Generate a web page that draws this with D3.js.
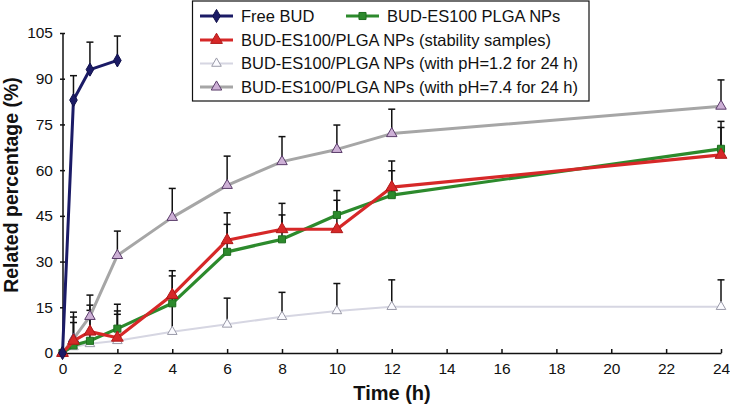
<!DOCTYPE html>
<html><head><meta charset="utf-8">
<script src="https://cdn.jsdelivr.net/npm/d3@7"></script>
<style>body{margin:0;background:#fff}svg{display:block}text{font-family:"Liberation Sans",Arial,sans-serif}</style>
</head><body><svg id="c" width="730" height="405"></svg>
<script>
const times = [0, 0.4, 1, 2, 4, 6, 8, 10, 12, 24];
const freeTimes = [0, 0.4, 1, 2];
const freeBud = [0, 83, 93, 96];
const freeBudSD = [0, 8, 9, 8];
const greenNP = [0, 2.5, 4, 8, 16.3, 33.2, 37.3, 45.3, 51.8, 67];
const greenSD = [0, 7.5, 10, 8, 9, 9, 8, 8, 8, 9];
const redStab = [0, 4, 7, 5, 19, 37, 40.6, 40.6, 54.4, 65];
const redSD = [0, 7.8, 8.7, 8.8, 8, 9, 8.5, 9.5, 8.6, 9];
const ph12 = [0, 2, 3, 4, 7, 9.4, 11.9, 13.8, 15.2, 15.2];
const ph12SD = [0, 0, 0, 8.7, 9, 8.6, 8, 9, 8.8, 8.8];
const ph74 = [0, 4.6, 12, 32, 44.5, 55, 62.8, 66.8, 72, 81];
const ph74SD = [0, 8.8, 7, 8, 9.5, 9.6, 8.2, 8, 8, 8.6];
const xTicks = [0, 2, 4, 6, 8, 10, 12, 14, 16, 18, 20, 22, 24];
const yTicks = [0, 15, 30, 45, 60, 75, 90, 105];
const legendLabels = ["Free BUD", "BUD-ES100 PLGA NPs", "BUD-ES100/PLGA NPs (stability samples)",
  "BUD-ES100/PLGA NPs (with pH=1.2 for 24 h)", "BUD-ES100/PLGA NPs (with pH=7.4 for 24 h)"];

const svg = d3.select("#c");
const x = d3.scaleLinear().domain([0, 24]).range([62.5, 721]);
const y = d3.scaleLinear().domain([0, 105]).range([353, 33]);

const series = [
  {name: legendLabels[3], t: times, v: ph12, sd: ph12SD, color: "#d6d6e2", w: 2, shape: d3.symbolTriangle, size: 40, fill: "#fbfbff", stroke: "#9a9aa8"},
  {name: legendLabels[4], t: times, v: ph74, sd: ph74SD, color: "#a6a6a6", w: 3, shape: d3.symbolTriangle, size: 48, fill: "#cdb0d6", stroke: "#5a3c6a"},
  {name: legendLabels[1], t: times, v: greenNP, sd: greenSD, color: "#2c8a2c", w: 3.2, shape: d3.symbolSquare, size: 50, fill: "#2c8a2c", stroke: "#1f6e1f"},
  {name: legendLabels[2], t: times, v: redStab, sd: redSD, color: "#d62828", w: 3.2, shape: d3.symbolTriangle, size: 60, fill: "#d62828", stroke: "#b01818"},
  {name: legendLabels[0], t: freeTimes, v: freeBud, sd: freeBudSD, color: "#1b1b66", w: 3, shape: d3.symbolDiamond, size: 50, fill: "#1b1b66", stroke: "#10104a"}
];

// error bars (upper only)
const eb = svg.append("g").attr("stroke", "#111").attr("stroke-width", 1.5);
series.forEach(s => s.t.forEach((t, i) => {
  if (!s.sd[i]) return;
  const x0 = x(t), y0 = y(s.v[i]), y1 = y(s.v[i] + s.sd[i]);
  eb.append("line").attr("x1", x0).attr("x2", x0).attr("y1", y0).attr("y2", y1);
  eb.append("line").attr("x1", x0 - 3.5).attr("x2", x0 + 3.5).attr("y1", y1).attr("y2", y1);
}));

// axes
const ax = svg.append("g").attr("transform", "translate(0,353)")
  .call(d3.axisBottom(x).tickValues(xTicks).tickSizeInner(-4).tickSizeOuter(0).tickPadding(10));
ax.select(".domain").attr("stroke", "#111").attr("stroke-width", 1.5);
ax.selectAll(".tick line").attr("stroke", "#111").attr("stroke-width", 1.5);
ax.selectAll(".tick text").attr("font-size", 15.5).attr("fill", "#111").attr("dy", "0.71em");
const ay = svg.append("g").attr("transform", "translate(62.5,0)")
  .call(d3.axisLeft(y).tickValues(yTicks).tickSize(2.5).tickSizeOuter(0).tickPadding(7));
ay.select(".domain").attr("stroke", "#111").attr("stroke-width", 1.5);
ay.selectAll(".tick line").attr("stroke", "#111").attr("stroke-width", 1.5).attr("x2", 2.5).attr("x1", -2.5);
ay.selectAll(".tick text").attr("font-size", 15.5).attr("fill", "#111");

// lines and markers
const line = d3.line();
series.forEach(s => {
  const pts = s.t.map((t, i) => [x(t), y(s.v[i])]);
  svg.append("path").attr("d", line(pts)).attr("fill", "none").attr("stroke", s.color)
    .attr("stroke-width", s.w).attr("stroke-linejoin", "round");
  svg.append("g").selectAll("path").data(pts).join("path")
    .attr("transform", d => `translate(${d[0]},${d[1]})`)
    .attr("d", d3.symbol(s.shape, s.size)).attr("fill", s.fill).attr("stroke", s.stroke).attr("stroke-width", 1);
});

// axis titles
svg.append("text").attr("x", 392).attr("y", 400).attr("text-anchor", "middle")
  .attr("font-weight", "bold").attr("font-size", 20).attr("fill", "#111").text("Time (h)");
svg.append("text").attr("transform", "translate(18,185) rotate(-90)").attr("text-anchor", "middle")
  .attr("font-weight", "bold").attr("font-size", 19.5).attr("fill", "#111").text("Related percentage (%)");

// legend
const lg = svg.append("g");
lg.append("rect").attr("x", 192.5).attr("y", 1).attr("width", 396.5).attr("height", 100)
  .attr("fill", "#fff").attr("stroke", "#111").attr("stroke-width", 1.2);
const legendPos = [
  {s: series[4], x: 200, y: 16}, {s: series[2], x: 346, y: 16}, {s: series[3], x: 200, y: 40},
  {s: series[0], x: 200, y: 63.5}, {s: series[1], x: 200, y: 87}
];
legendPos.forEach(p => {
  lg.append("line").attr("x1", p.x).attr("x2", p.x + 33).attr("y1", p.y).attr("y2", p.y)
    .attr("stroke", p.s.color).attr("stroke-width", p.s.w);
  lg.append("path").attr("transform", `translate(${p.x + 16.5},${p.y})`)
    .attr("d", d3.symbol(p.s.shape, p.s.size)).attr("fill", p.s.fill).attr("stroke", p.s.stroke);
  lg.append("text").attr("x", p.x + 41).attr("y", p.y).attr("dy", "0.36em")
    .attr("font-size", 16.5).attr("fill", "#111").text(p.s.name);
});
</script></body></html>
